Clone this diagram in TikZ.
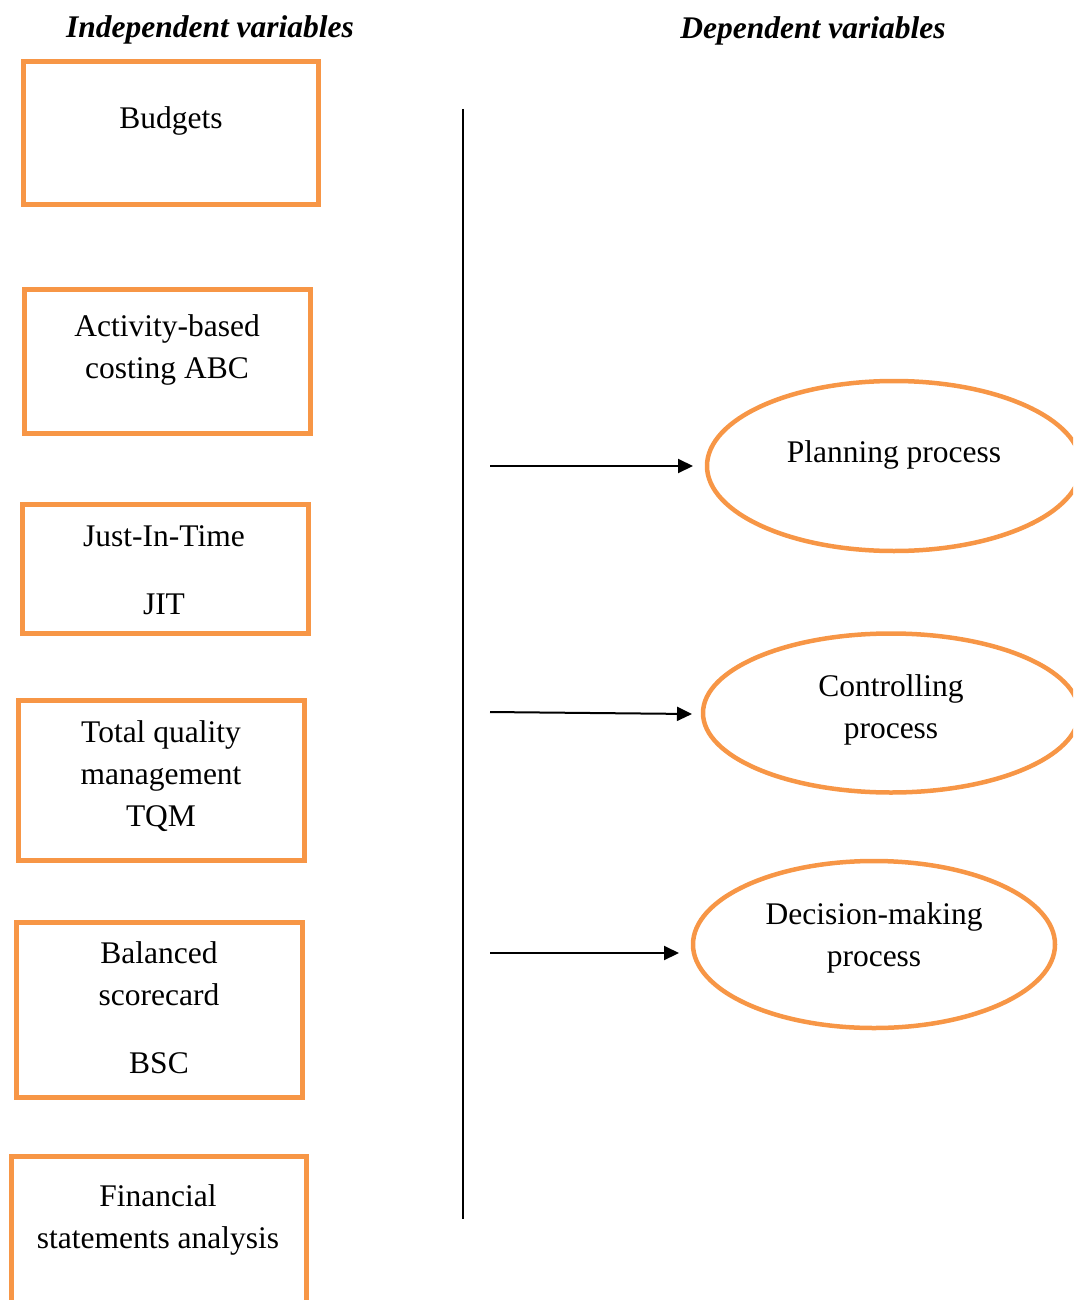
\documentclass[tikz,border=0pt]{standalone}
\usepackage{fontspec}
\setmainfont{Liberation Serif}
\usetikzlibrary{shapes.geometric,arrows.meta,calc}
\definecolor{boxorange}{RGB}{247,150,70}
\begin{document}
\begin{tikzpicture}[x=1pt,y=-1pt,
  every node/.style={inner sep=0pt,outer sep=0pt},
  varbox/.style={draw=boxorange,line width=5pt,rectangle},
  varoval/.style={draw=boxorange,line width=4.5pt,ellipse},
  % multi-line labels are placed by the baseline of their last line
  lbl/.style={font=\fontsize{31.5}{42}\selectfont,align=center,anchor=base},
  heading/.style={font=\fontsize{31.5}{42}\selectfont\bfseries\itshape,anchor=base},
  link/.style={line width=2pt,-{Triangle[length=15pt,width=14pt]}}]

\useasboundingbox (0,0) rectangle (1073,1300);
\clip (0,0) rectangle (1073,1300);

% column headings
\node[heading] (hind) at (210,38) {Independent variables};
\node[heading] (hdep) at (813,39) {Dependent variables};

% independent variables
\node[varbox,minimum width=295pt,minimum height=142.5pt] (budgets) at (171,132.75) {};
\node[lbl] (budgets-t) at (171,129) {Budgets};

\node[varbox,minimum width=286.5pt,minimum height=144pt] (abc) at (167.25,361) {};
\node[lbl] (abc-t) at (167,378) {Activity-based\\costing ABC};

\node[varbox,minimum width=286pt,minimum height=129pt] (jit) at (165,568.5) {};
\node[lbl] (jit-t) at (164,614) {Just-In-Time\\[26pt]JIT};

\node[varbox,minimum width=286pt,minimum height=160pt] (tqm) at (161,780) {};
\node[lbl] (tqm-t) at (161,826) {Total quality\\management\\TQM};

\node[varbox,minimum width=286pt,minimum height=175pt] (bsc) at (159,1009.5) {};
\node[lbl] (bsc-t) at (159,1073) {Balanced\\scorecard\\[26pt]BSC};

\node[varbox,minimum width=295pt,minimum height=164pt] (fsa) at (158.5,1238) {};
\node[lbl] (fsa-t) at (158,1248) {Financial\\statements analysis};

% divider
\coordinate (vtop) at (463,109);
\coordinate (vbot) at (463,1219);
\draw[line width=2pt] (vtop) -- (vbot);

% dependent variables
\node[varoval,minimum width=374pt,minimum height=170pt] (plan) at (894,466) {};
\node[lbl] (plan-t) at (894,462) {Planning process};

\node[varoval,minimum width=376pt,minimum height=159pt] (ctrl) at (891,713) {};
\node[lbl] (ctrl-t) at (891,738) {Controlling\\process};

\node[varoval,minimum width=362pt,minimum height=167pt] (dec) at (874,944.5) {};
\node[lbl] (dec-t) at (874,966) {Decision-making\\process};

% connectors
\coordinate (s1) at (490,466);
\coordinate (s2) at (490,712);
\coordinate (s3) at (490,953);
\draw[link] (s1) -- ($(plan.west)+(-14,0)$);
\draw[link] (s2) -- ($(ctrl.west)+(-11,1)$);
\draw[link] (s3) -- ($(dec.west)+(-14,8.5)$);
\end{tikzpicture}
\end{document}
